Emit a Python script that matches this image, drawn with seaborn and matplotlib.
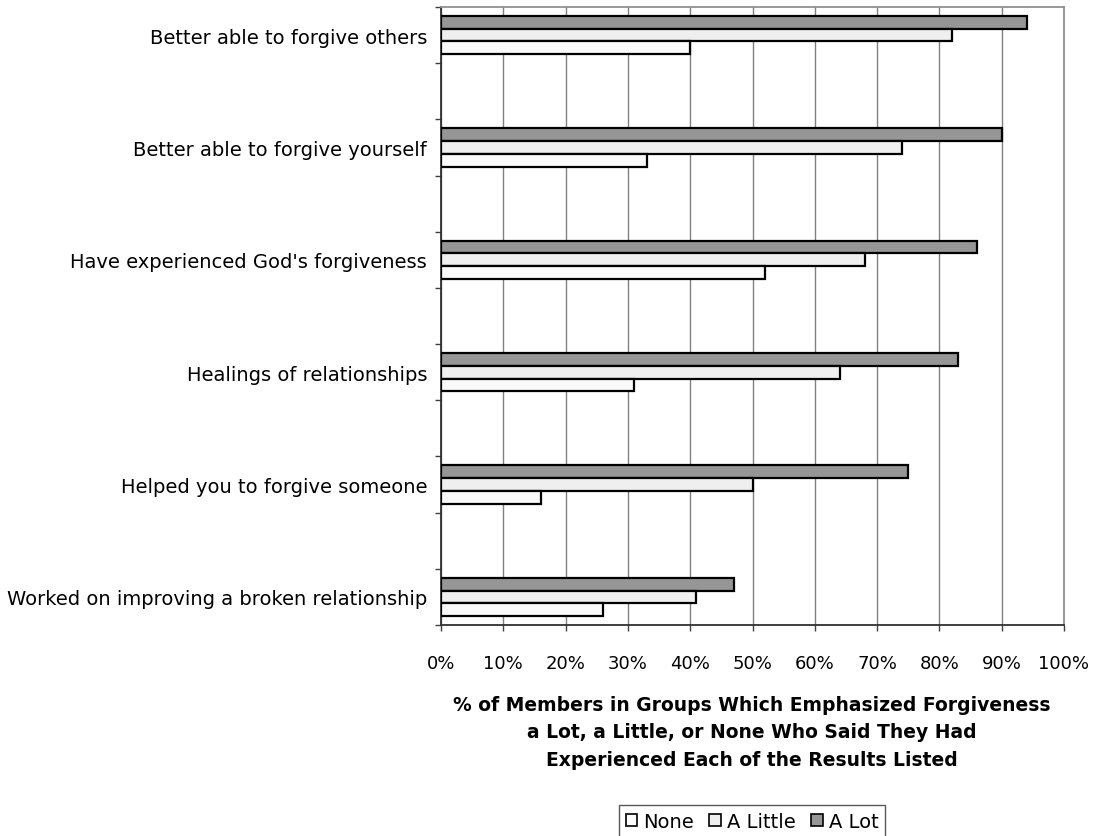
import numpy as np
import pandas as pd
import matplotlib
matplotlib.use("Agg")
import matplotlib.pyplot as plt
from matplotlib.patches import Patch
import seaborn as sns

# Survey results (% who said they had experienced each result)
categories = [
    "Better able to forgive others",
    "Better able to forgive yourself",
    "Have experienced God's forgiveness",
    "Healings of relationships",
    "Helped you to forgive someone",
    "Worked on improving a broken relationship",
]
none_pct = [40, 33, 52, 31, 16, 26]
little_pct = [82, 74, 68, 64, 50, 41]
lot_pct = [94, 90, 86, 83, 75, 47]

levels = ["None", "A Little", "A Lot"]
x_ticks = [0, 10, 20, 30, 40, 50, 60, 70, 80, 90, 100]

df = pd.DataFrame({
    "result": categories * 3,
    "level": ["None"] * 6 + ["A Little"] * 6 + ["A Lot"] * 6,
    "pct": none_pct + little_pct + lot_pct,
})

# Empty spacer rows between the results
order = []
for i, c in enumerate(categories):
    order.append(c)
    if i < len(categories) - 1:
        order.append(" " * (i + 1))

sns.set_theme(style="white")
plt.rcParams["font.family"] = ["DejaVu Sans"]
plt.rcParams["text.color"] = "black"
plt.rcParams["xtick.labelcolor"] = "black"
plt.rcParams["ytick.labelcolor"] = "black"

fig = plt.figure(figsize=(10.99, 8.37), dpi=100)
ax = fig.add_axes([441 / 1099, 1 - 626 / 837, (1064 - 441) / 1099, (626 - 8) / 837])

palette = {"A Lot": "#969696", "A Little": "#efefef", "None": "#fafafa"}
sns.barplot(
    data=df, y="result", x="pct", hue="level", order=order,
    hue_order=["A Lot", "A Little", "None"], palette=palette,
    orient="h", width=0.68, saturation=1, edgecolor="black",
    linewidth=1.6, ax=ax, legend=False, zorder=3,
)

ax.set_xlim(0, 100)
ax.set_xticks(x_ticks)
ax.set_xticklabels([f"{t}%" for t in x_ticks], fontsize=13)
ax.xaxis.grid(True, color="#808080", linewidth=1.0)
ax.set_axisbelow(True)
ax.tick_params(axis="x", direction="out", length=4, width=1, color="#404040",
               labelcolor="black", pad=17, bottom=True)

ax.set_yticks(range(len(order)))
ax.set_yticklabels(order, fontsize=14)
ax.tick_params(axis="y", which="major", length=0, pad=10, labelcolor="black")
ax.set_yticks(np.arange(-0.5, len(order), 1.0), minor=True)
ax.tick_params(axis="y", which="minor", direction="out", length=4, width=1, color="#404040", left=True)
ax.set_ylabel("")
ax.set_xlabel("")

for side in ["left", "bottom"]:
    ax.spines[side].set_color("#303030")
    ax.spines[side].set_linewidth(1.3)
for side in ["top", "right"]:
    ax.spines[side].set_color("#909090")
    ax.spines[side].set_linewidth(1.3)

fig.text(752 / 1099, 1 - 696 / 837,
         "% of Members in Groups Which Emphasized Forgiveness\n"
         "a Lot, a Little, or None Who Said They Had\n"
         "Experienced Each of the Results Listed",
         ha="center", va="top", fontsize=13.5, fontweight="bold",
         linespacing=1.56, color="black")

handles = [Patch(facecolor=palette[l], edgecolor="black", linewidth=1.2) for l in levels]
leg = fig.legend(handles, levels, loc="upper center",
                 bbox_to_anchor=(752 / 1099, 1 - 806 / 837), ncol=3, fontsize=14,
                 frameon=True, fancybox=False, edgecolor="#303030",
                 handlelength=0.6, handleheight=0.6, handletextpad=0.3,
                 columnspacing=0.8, borderpad=0.35, borderaxespad=0)
leg.get_frame().set_linewidth(1.0)

fig.savefig("out.png", dpi=100)
